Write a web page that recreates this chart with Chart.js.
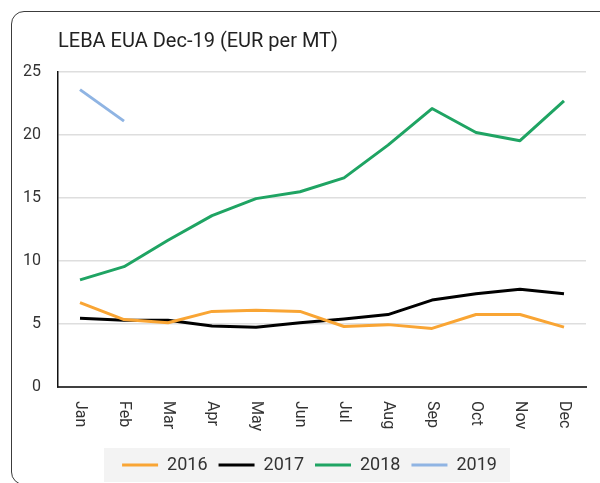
<!DOCTYPE html>
<html>
<head>
<meta charset="utf-8">
<script src="https://cdn.jsdelivr.net/npm/chart.js@4.4.1/dist/chart.umd.min.js"></script>
<style>
  html, body { margin: 0; padding: 0; background: #fff; overflow: hidden; }
  #marco {
    position: absolute; left: 11px; top: 11px;
    width: 660px; height: 472px;
    border: 1.4px solid #3c3c3c; border-radius: 13px;
  }
  #contenedor { position: absolute; left: 0; top: 0; width: 600px; height: 484px; }
</style>
</head>
<body>
<div id="marco"></div>
<div id="contenedor"><canvas id="myChart" width="600" height="484"></canvas></div>
<script>
// datos
const meses = ['Jan', 'Feb', 'Mar', 'Apr', 'May', 'Jun', 'Jul', 'Aug', 'Sep', 'Oct', 'Nov', 'Dec'];
const anios = ['2016', '2017', '2018', '2019'];
const precios2016 = [6.7, 5.35, 5.1, 6.0, 6.1, 6.0, 4.8, 4.95, 4.65, 5.75, 5.75, 4.75];
const precios2017 = [5.45, 5.3, 5.3, 4.85, 4.75, 5.1, 5.4, 5.75, 6.9, 7.4, 7.75, 7.4];
const precios2018 = [8.5, 9.55, 11.65, 13.6, 14.95, 15.5, 16.6, 19.2, 22.1, 20.2, 19.55, 22.7];
const precios2019 = [23.6, 21.1, null, null, null, null, null, null, null, null, null, null];
const ejeY = [0, 25, 5]; // min, max, paso

const colores = ['#f9a534', '#000000', '#1fa463', '#8fb4e3'];
const fuente = 'Roboto, "Noto Sans", sans-serif';

// fondo gris de la leyenda + moverla un poco a la derecha
const fondoLeyenda = {
    id: 'fondoLeyenda',
    afterLayout(chart) {
        chart.legend.left = 33;
    },
    beforeDraw(chart) {
        const cajas = chart.legend.legendHitBoxes;
        if (!cajas || !cajas.length) {
            return;
        }
        const ctx = chart.ctx;
        const ultima = cajas[cajas.length - 1];
        const izq = cajas[0].left - 18;
        const der = ultima.left + ultima.width + 13;
        const medio = cajas[0].top + cajas[0].height / 2;
        ctx.save();
        ctx.fillStyle = '#f3f3f3';
        ctx.fillRect(izq, medio - 17, der - izq, 34);
        ctx.restore();
    }
};

// etiquetas del eje x giradas hacia la derecha
const etiquetasX = {
    id: 'etiquetasX',
    afterDraw(chart) {
        const escala = chart.scales.x;
        const ctx = chart.ctx;
        ctx.save();
        ctx.font = '16px ' + fuente;
        ctx.fillStyle = '#333333';
        ctx.textAlign = 'left';
        ctx.textBaseline = 'middle';
        for (var i = 0; i < meses.length; ++i) {
            ctx.save();
            ctx.translate(escala.getPixelForTick(i), escala.top + 14);
            ctx.rotate(Math.PI / 2);
            ctx.fillText(meses[i], 0, 0);
            ctx.restore();
        }
        ctx.restore();
    }
};

function serie(nombre, datos, color) {
    return {
        label: nombre,
        data: datos,
        borderColor: color,
        backgroundColor: color,
        borderWidth: 3,
        pointRadius: 0,
        pointHoverRadius: 0,
        tension: 0,
        fill: false,
        borderJoinStyle: 'round'
    };
}

const ctx = document.getElementById('myChart').getContext('2d');
const myChart = new Chart(ctx, {
    type: 'line',
    data: {
        labels: meses,
        datasets: [
            serie(anios[0], precios2016, colores[0]),
            serie(anios[1], precios2017, colores[1]),
            serie(anios[2], precios2018, colores[2]),
            serie(anios[3], precios2019, colores[3])
        ]
    },
    options: {
        responsive: false,
        animation: false,
        layout: { padding: { left: 23, right: 14, top: 0, bottom: 0 } },
        plugins: {
            title: {
                display: true,
                text: 'LEBA EUA Dec-19 (EUR per MT)',
                align: 'start',
                fullSize: false,
                color: '#222222',
                font: { family: fuente, size: 20, weight: 'normal' },
                padding: { top: 30, bottom: 18 }
            },
            legend: {
                position: 'bottom',
                labels: {
                    boxWidth: 36,
                    boxHeight: 3,
                    padding: 11,
                    color: '#333333',
                    font: { family: fuente, size: 18 },
                    generateLabels: function (chart) {
                        const items = Chart.defaults.plugins.legend.labels.generateLabels(chart);
                        items.forEach(function (it) {
                            it.lineWidth = 0;
                        });
                        return items;
                    }
                }
            },
            tooltip: { enabled: false }
        },
        scales: {
            x: {
                offset: true,
                grid: { display: false, drawTicks: false },
                border: { color: '#404040', width: 2 },
                ticks: {
                    color: 'rgba(0,0,0,0)',
                    minRotation: 90,
                    maxRotation: 90,
                    padding: 0,
                    font: { family: fuente, size: 16 }
                },
                afterFit: function (escala) {
                    escala.height = 58;
                    escala.paddingLeft = 0;
                    escala.paddingRight = 0;
                }
            },
            y: {
                min: ejeY[0],
                max: ejeY[1],
                ticks: {
                    stepSize: ejeY[2],
                    padding: 17,
                    color: '#333333',
                    font: { family: fuente, size: 16 }
                },
                grid: {
                    drawTicks: false,
                    lineWidth: 1.5,
                    color: function (c) {
                        return c.tick && c.tick.value === 0 ? 'rgba(0,0,0,0)' : '#dedede';
                    }
                },
                border: { color: '#111111', width: 1.5 },
                afterFit: function (escala) {
                    escala.width = 35;
                }
            }
        }
    },
    plugins: [fondoLeyenda, etiquetasX]
});
</script>
</body>
</html>
